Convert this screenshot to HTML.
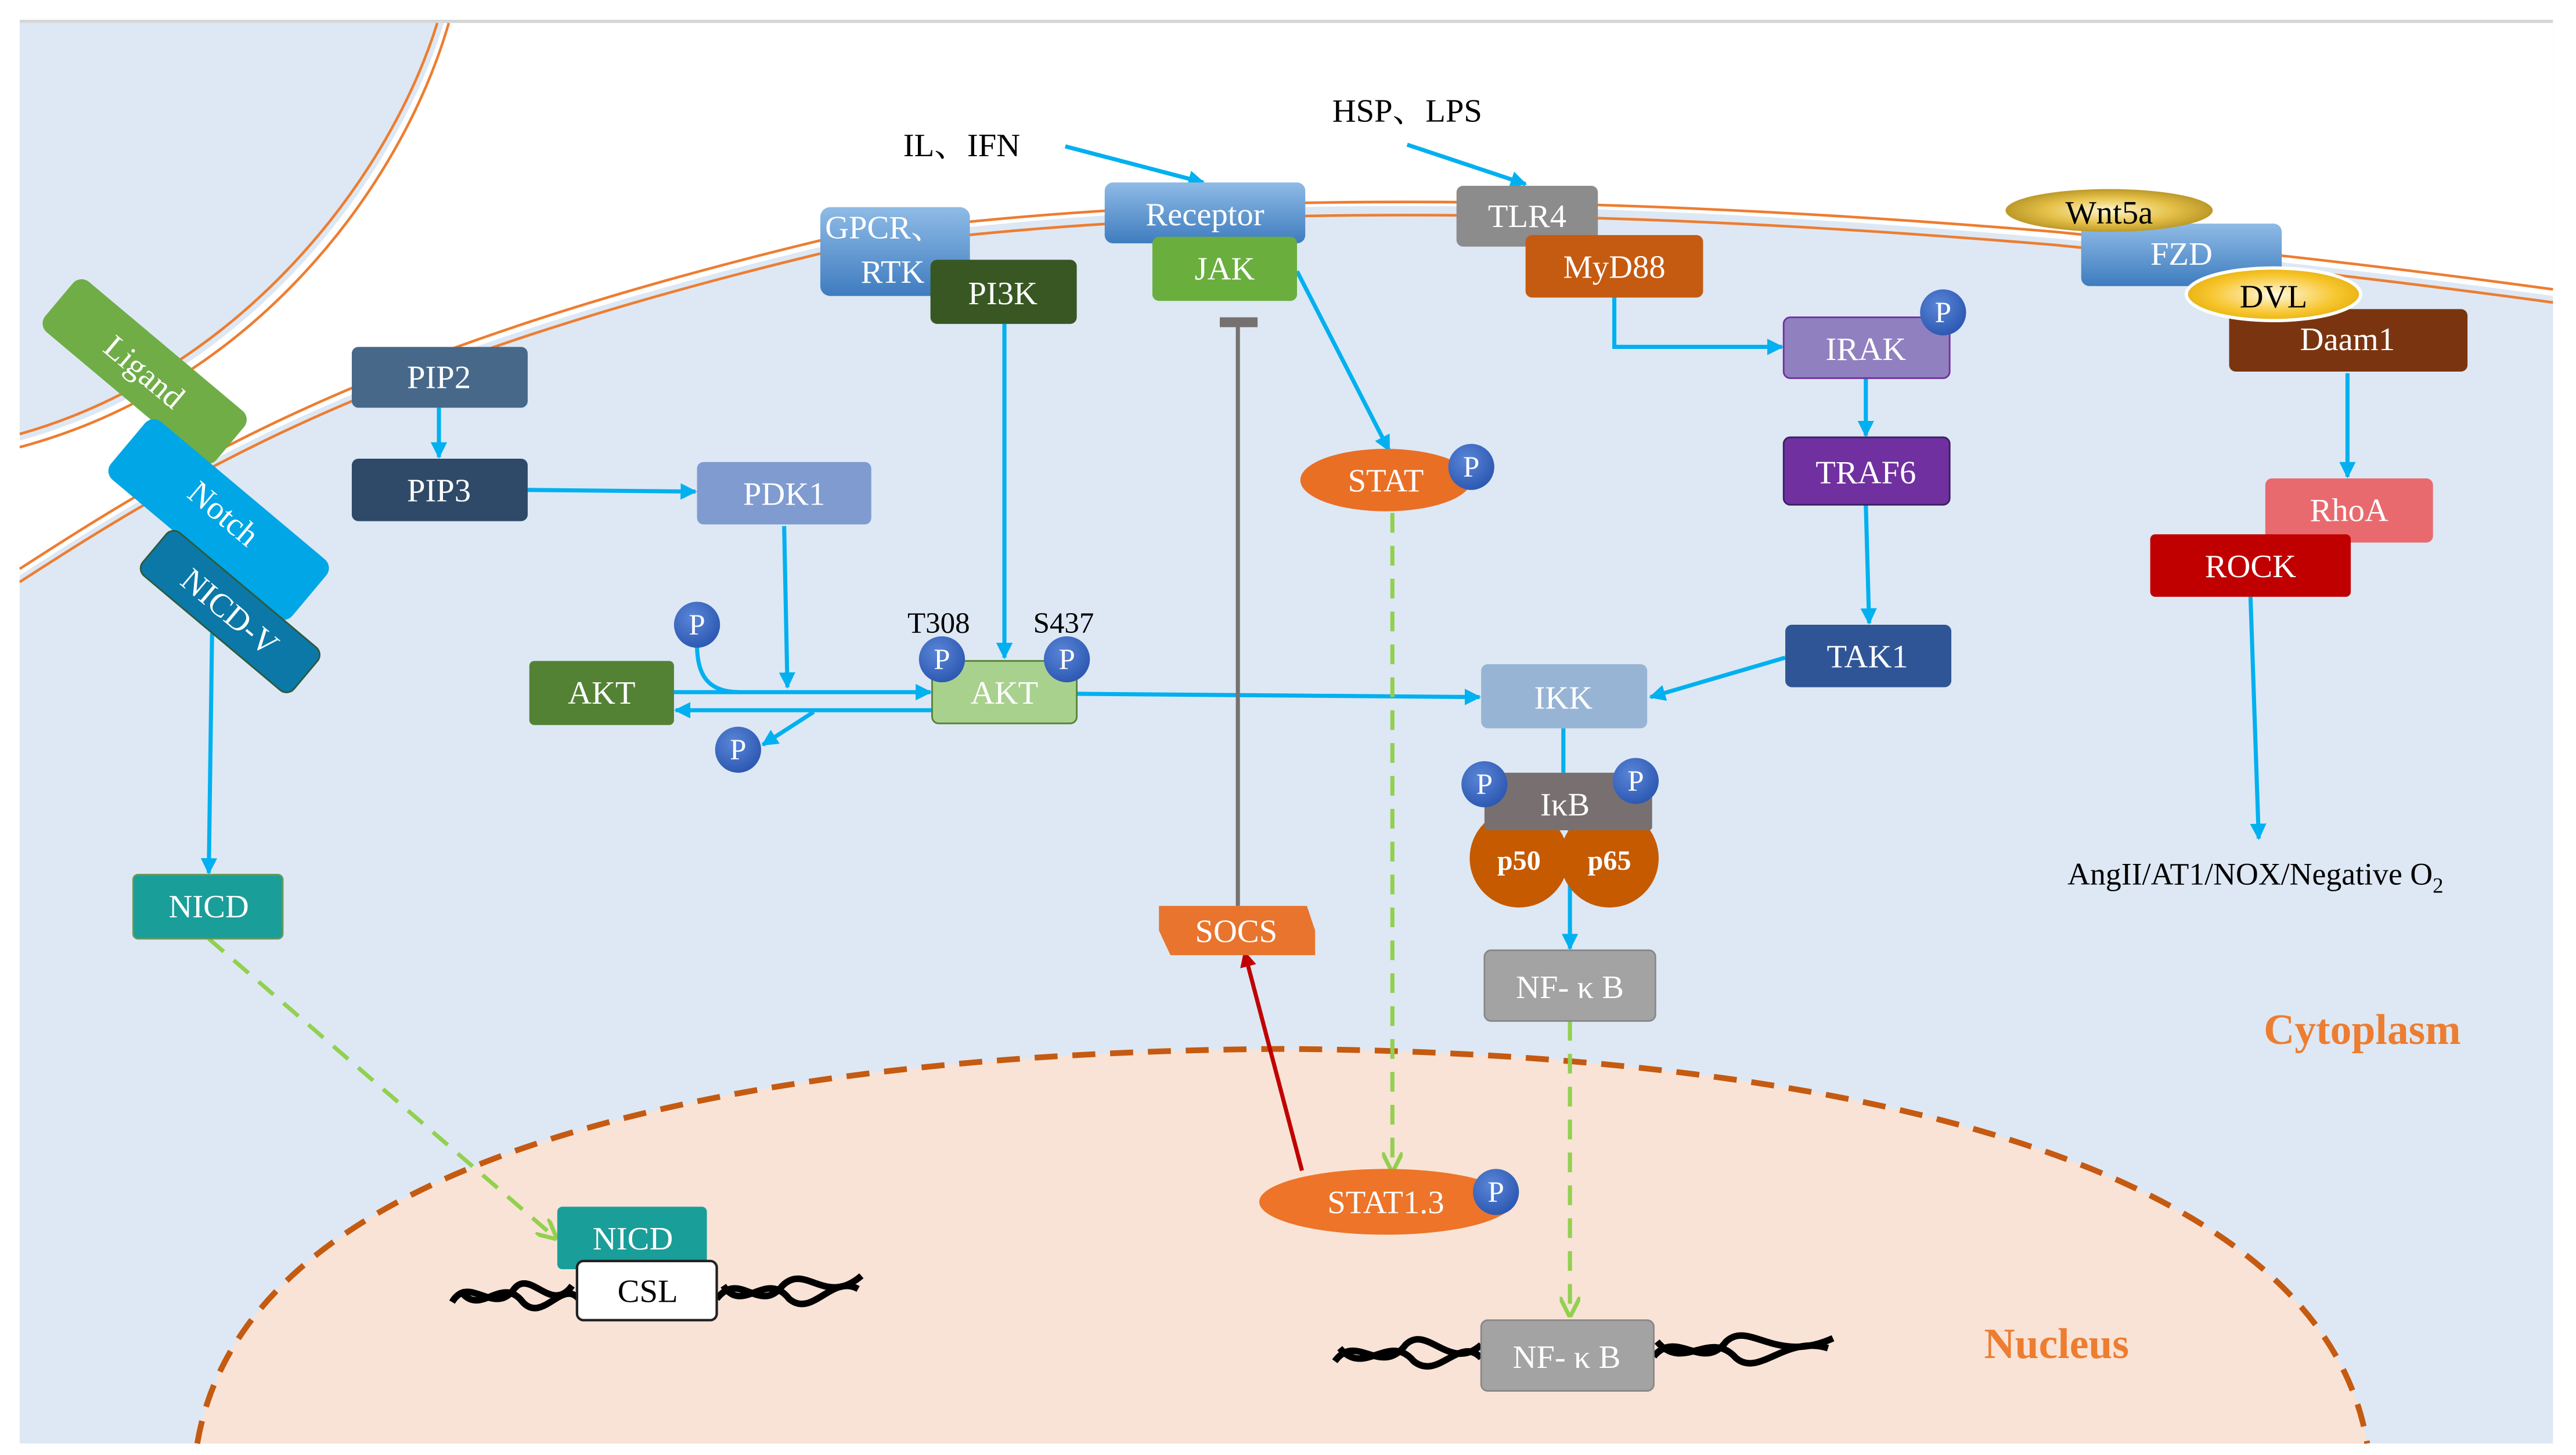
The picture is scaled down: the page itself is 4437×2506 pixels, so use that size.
<!DOCTYPE html>
<html><head><meta charset="utf-8"><style>
html,body{margin:0;padding:0;background:#fff;}
svg{display:block;}
text{font-family:"Liberation Serif","Noto Serif CJK SC",serif;}
</style></head><body>
<svg width="4437" height="2506" viewBox="0 0 1567 885" preserveAspectRatio="none" xmlns="http://www.w3.org/2000/svg">
<defs>
<marker id="ab" viewBox="0 0 10 10" refX="9" refY="5" markerWidth="4" markerHeight="4" orient="auto"><path d="M0,0L10,5L0,10z" fill="#00b0f0"/></marker>
<marker id="ag" viewBox="0 0 10 10" refX="9" refY="5" markerWidth="5" markerHeight="5" orient="auto"><path d="M0,0L10,5L0,10" fill="none" stroke="#92d050" stroke-width="2"/></marker>
<marker id="ar" viewBox="0 0 10 10" refX="9" refY="5" markerWidth="4" markerHeight="4" orient="auto"><path d="M0,0L10,5L0,10z" fill="#c00000"/></marker>
<radialGradient id="pg" cx="0.4" cy="0.35" r="0.7"><stop offset="0" stop-color="#5a86d8"/><stop offset="1" stop-color="#2b56b0"/></radialGradient>
<linearGradient id="bl" x1="0" y1="0" x2="0" y2="1"><stop offset="0" stop-color="#8fbbe6"/><stop offset="1" stop-color="#3e7cbf"/></linearGradient>
<radialGradient id="gold" cx="0.5" cy="0.5" r="0.6"><stop offset="0" stop-color="#fff6d0"/><stop offset="0.5" stop-color="#e6c24a"/><stop offset="1" stop-color="#a88418"/></radialGradient>
<radialGradient id="gold2" cx="0.5" cy="0.5" r="0.6"><stop offset="0" stop-color="#fff9e0"/><stop offset="0.6" stop-color="#f7c630"/><stop offset="1" stop-color="#e0a800"/></radialGradient>
</defs>
<rect width="1567" height="885" fill="#fff"/>
<rect x="12" y="14" width="1541" height="864" fill="#dde8f4"/>
<line x1="12" y1="13" x2="1553" y2="13" stroke="#d6d6d6" stroke-width="2"/>
<path d="M270,14 C240,110 150,230 12,268 L12,350 C120,280 230,215 500,150 C700,118 950,118 1250,145 C1400,160 1480,170 1553,180 L1553,14 Z" fill="#fff"/>
<g fill="none" stroke="#ed7d31" stroke-width="1.6">
<path d="M266,14 C236,110 146,226 12,264"/>
<path d="M273,14 C244,114 154,234 12,272"/>
<path d="M12,346 C120,276 230,211 500,146 C700,116 950,116 1250,141 C1400,156 1480,166 1553,176"/>
<path d="M12,354 C120,284 230,219 500,154 C700,124 950,124 1250,149 C1400,164 1480,174 1553,184"/>
</g>
<path d="M120,878 C150,700 450,640 780,638 C1100,640 1410,700 1440,878 Z" fill="#f9e3d6"/>
<path d="M120,878 C150,700 450,640 780,638 C1100,640 1410,700 1440,878" fill="none" stroke="#c55a11" stroke-width="3.5" stroke-dasharray="14,9"/>
<text x="1437" y="635" font-size="26" font-weight="bold" fill="#ed7d31" text-anchor="middle">Cytoplasm</text>
<text x="1251" y="826" font-size="26" font-weight="bold" fill="#ed7d31" text-anchor="middle">Nucleus</text>

<g stroke="#00b0f0" stroke-width="2.5" fill="none">
<line x1="648" y1="89" x2="732" y2="111" marker-end="url(#ab)"/>
<line x1="856" y1="88" x2="928" y2="112" marker-end="url(#ab)"/>
<line x1="267" y1="248" x2="267" y2="278" marker-end="url(#ab)"/>
<line x1="321" y1="298" x2="423" y2="299" marker-end="url(#ab)"/>
<line x1="477" y1="320" x2="479" y2="418" marker-end="url(#ab)"/>
<line x1="611" y1="197" x2="611" y2="400" marker-end="url(#ab)"/>
<line x1="410" y1="421" x2="566" y2="421" marker-end="url(#ab)"/>
<path d="M424,392 C424,410 430,421 450,421"/>
<line x1="567" y1="432" x2="411" y2="432" marker-end="url(#ab)"/>
<line x1="495" y1="433" x2="464" y2="453" marker-end="url(#ab)"/>
<line x1="655" y1="422" x2="900" y2="424" marker-end="url(#ab)"/>
<line x1="789" y1="165" x2="845" y2="274" marker-end="url(#ab)"/>
<path d="M982,181 L982,211 L1084,211" marker-end="url(#ab)"/>
<line x1="1135" y1="229" x2="1135" y2="265" marker-end="url(#ab)"/>
<line x1="1135" y1="307" x2="1137" y2="379" marker-end="url(#ab)"/>
<line x1="1086" y1="400" x2="1004" y2="424" marker-end="url(#ab)"/>
<line x1="951" y1="443" x2="951" y2="470"/>
<line x1="955" y1="505" x2="955" y2="577" marker-end="url(#ab)"/>
<line x1="1428" y1="227" x2="1428" y2="290" marker-end="url(#ab)"/>
<line x1="1369" y1="363" x2="1374" y2="510" marker-end="url(#ab)"/>
<line x1="129" y1="385" x2="127" y2="531" marker-end="url(#ab)"/>
</g>
<g stroke="#92d050" stroke-width="2.5" fill="none" stroke-dasharray="12,8">
<line x1="127" y1="571" x2="338" y2="753" marker-end="url(#ag)"/>
<line x1="847" y1="312" x2="847" y2="712" marker-end="url(#ag)"/>
<line x1="955" y1="621" x2="955" y2="800" marker-end="url(#ag)"/>
</g>
<line x1="792" y1="712" x2="757" y2="579" stroke="#c00000" stroke-width="2.5" marker-end="url(#ar)"/>
<line x1="753" y1="551" x2="753" y2="195" stroke="#767171" stroke-width="2.5"/>
<rect x="742" y="193" width="23" height="6" fill="#767171"/>

<g fill="none" stroke="#000" stroke-width="4">
<path d="M275,792 C285,775 300,800 312,785 C322,770 335,800 348,782"/>
<path d="M280,785 C292,802 305,775 318,792 C330,805 342,778 352,790"/>
<path d="M436,790 C450,772 462,800 476,782 C490,768 502,795 524,776"/>
<path d="M440,782 C452,800 466,772 480,790 C494,802 506,775 522,784"/>
<path d="M812,828 C825,810 840,838 855,818 C868,805 882,835 901,818"/>
<path d="M815,820 C830,838 845,810 860,828 C875,840 888,812 901,826"/>
<path d="M1006,825 C1020,808 1036,835 1050,816 C1064,803 1080,830 1115,814"/>
<path d="M1008,816 C1024,835 1040,808 1056,826 C1070,838 1086,812 1112,820"/>
</g>

<g transform="translate(88,226) rotate(40)"><rect x="-68" y="-20" width="136" height="40" rx="7" fill="#70ad47"/><text y="7" font-size="20" fill="#fff" text-anchor="middle">Ligand</text></g>
<g transform="translate(133,316) rotate(40)"><rect x="-72" y="-23" width="144" height="46" rx="7" fill="#00a6e6"/><text y="2" font-size="20" fill="#fff" text-anchor="middle">Notch</text></g>
<g transform="translate(140,372) rotate(40)"><rect x="-60" y="-17" width="120" height="34" rx="6" fill="#0b78a8" stroke="#2d5a3d"/><text y="7" font-size="20" fill="#fff" text-anchor="middle">NICD-V</text></g>

<g font-size="20" fill="#fff" text-anchor="middle">
<rect x="214" y="211" width="107" height="37" rx="4" fill="#476888"/><text x="267" y="236" fill="#fff">PIP2</text>
<rect x="214" y="279" width="107" height="38" rx="4" fill="#2e4a68"/><text x="267" y="305" fill="#fff">PIP3</text>
<rect x="424" y="281" width="106" height="38" rx="4" fill="#7f9bd0"/><text x="477" y="307" fill="#fff">PDK1</text>
<rect x="499" y="126" width="91" height="54" rx="6" fill="url(#bl)"/><text x="538" y="145" fill="#fff">GPCR、</text><text x="543" y="172" fill="#fff">RTK</text>
<rect x="566" y="158" width="89" height="39" rx="4" fill="#385723"/><text x="610" y="185" fill="#fff">PI3K</text>
<rect x="672" y="111" width="122" height="37" rx="5" fill="url(#bl)"/><text x="733" y="137" fill="#fff">Receptor</text>
<rect x="701" y="144" width="88" height="39" rx="4" fill="#6aae3e"/><text x="745" y="170" fill="#fff">JAK</text>
<rect x="886" y="113" width="86" height="37" rx="4" fill="#8c8c8c"/><text x="929" y="138" fill="#fff">TLR4</text>
<rect x="928" y="143" width="108" height="38" rx="4" fill="#c55a11"/><text x="982" y="169" fill="#fff">MyD88</text>
<rect x="1085" y="193" width="101" height="37" rx="4" fill="#9080c0" stroke="#7030a0"/><text x="1135" y="219" fill="#fff">IRAK</text>
<rect x="1085" y="266" width="101" height="41" rx="4" fill="#7030a0" stroke="#3a2060"/><text x="1135" y="294" fill="#fff">TRAF6</text>
<rect x="1086" y="380" width="101" height="38" rx="4" fill="#2f5597"/><text x="1136" y="406" fill="#fff">TAK1</text>
<rect x="901" y="404" width="101" height="39" rx="4" fill="#98b4d4"/><text x="951" y="431" fill="#fff">IKK</text>
<circle cx="924" cy="522" r="30" fill="#c55a00"/><circle cx="979" cy="522" r="30" fill="#c55a00"/>
<text x="924" y="529" font-size="17" font-weight="bold" fill="#fff">p50</text><text x="979" y="529" font-size="17" font-weight="bold" fill="#fff">p65</text>
<rect x="903" y="470" width="102" height="35" rx="2" fill="#787070"/><text x="952" y="496" fill="#fff">IκB</text>
<rect x="903" y="578" width="104" height="43" rx="4" fill="#a3a3a3" stroke="#888"/><text x="955" y="607" fill="#fff">NF- κ B</text>
<rect x="901" y="803" width="105" height="43" rx="4" fill="#a3a3a3" stroke="#888"/><text x="953" y="832" fill="#fff">NF- κ B</text>
<rect x="1266" y="136" width="122" height="38" rx="5" fill="url(#bl)"/><text x="1327" y="161" fill="#fff">FZD</text>
<ellipse cx="1283" cy="128" rx="63" ry="13" fill="url(#gold)"/><text x="1283" y="136" fill="#000">Wnt5a</text>
<rect x="1356" y="188" width="145" height="38" rx="4" fill="#7a3510"/><text x="1428" y="213" fill="#fff">Daam1</text>
<ellipse cx="1383" cy="179" rx="53" ry="16" fill="url(#gold2)" stroke="#fff" stroke-width="2"/><text x="1383" y="187" fill="#000">DVL</text>
<rect x="1378" y="291" width="102" height="39" rx="4" fill="#e86a6e"/><text x="1429" y="317" fill="#fff">RhoA</text>
<rect x="1308" y="325" width="122" height="38" rx="3" fill="#c00000"/><text x="1369" y="351" fill="#fff">ROCK</text>
<ellipse cx="843" cy="292" rx="52" ry="19" fill="#e96f25"/><text x="843" y="299" fill="#fff">STAT</text>
<path d="M705,551 L795,551 L800,566 L800,581 L712,581 L705,566 Z" fill="#e8742e"/><text x="752" y="573" fill="#fff">SOCS</text>
<ellipse cx="843" cy="731" rx="77" ry="20" fill="#ed7428"/><text x="843" y="738" fill="#fff">STAT1.3</text>
<rect x="322" y="402" width="88" height="39" rx="3" fill="#548235"/><text x="366" y="428" fill="#fff">AKT</text>
<rect x="567" y="402" width="88" height="38" rx="4" fill="#a9d18e" stroke="#548235"/><text x="611" y="428" fill="#fff">AKT</text>
<rect x="81" y="532" width="91" height="39" rx="3" fill="#1a9e9a" stroke="#6a9a5a"/><text x="127" y="558" fill="#fff">NICD</text>
<rect x="339" y="734" width="91" height="38" rx="3" fill="#1a9e9a"/><text x="385" y="760" fill="#fff">NICD</text>
<rect x="351" y="767" width="85" height="36" rx="4" fill="#fff" stroke="#222" stroke-width="1.5"/><text x="394" y="792" fill="#000">CSL</text>
</g>
<g font-size="18" fill="#fff" text-anchor="middle">
<circle cx="1182" cy="190" r="14" fill="url(#pg)"/><text x="1182" y="196">P</text>
<circle cx="895" cy="284" r="14" fill="url(#pg)"/><text x="895" y="290">P</text>
<circle cx="910" cy="725" r="14" fill="url(#pg)"/><text x="910" y="731">P</text>
<circle cx="903" cy="477" r="14" fill="url(#pg)"/><text x="903" y="483">P</text>
<circle cx="995" cy="475" r="14" fill="url(#pg)"/><text x="995" y="481">P</text>
<circle cx="573" cy="401" r="14" fill="url(#pg)"/><text x="573" y="407">P</text>
<circle cx="649" cy="401" r="14" fill="url(#pg)"/><text x="649" y="407">P</text>
<circle cx="424" cy="380" r="14" fill="url(#pg)"/><text x="424" y="386">P</text>
<circle cx="449" cy="456" r="14" fill="url(#pg)"/><text x="449" y="462">P</text>
</g>
<g font-size="18" fill="#000" text-anchor="middle">
<text x="571" y="385">T308</text><text x="647" y="385">S437</text>
<text x="585" y="95" font-size="20">IL、IFN</text>
<text x="856" y="74" font-size="20">HSP、LPS</text>
<text x="1372" y="538" font-size="19">AngII/AT1/NOX/Negative O<tspan font-size="13" dy="5">2</tspan></text>
</g>
</svg>
</body></html>
